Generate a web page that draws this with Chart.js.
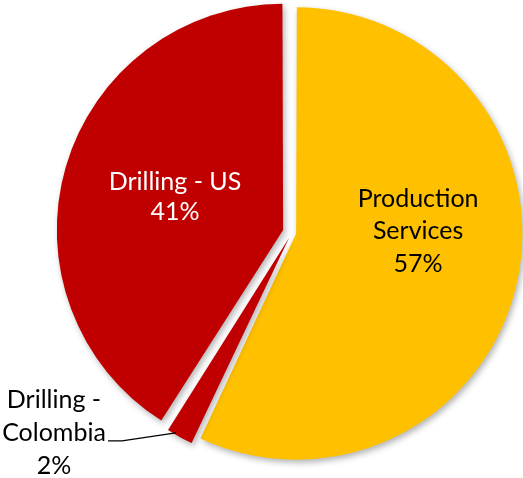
<!DOCTYPE html>
<html>
<head>
<meta charset="utf-8">
<script src="https://cdn.jsdelivr.net/npm/chart.js@4/dist/chart.umd.min.js"></script>
<style>
	html, body { margin: 0; padding: 0; background: #fff; }
	#wrap { width: 523px; height: 478px; }
</style>
</head>
<body>
<div id="wrap"><canvas id="myChart" width="523" height="478"></canvas></div>
<script>
// data
var segments = ['Production Services', 'Drilling - Colombia', 'Drilling - US'];
var shares = [57, 2, 41];
var segColors = ['#FFC000', '#C00000', '#C00000'];

// label text, one array of lines per segment
var labelLines = [
	['Production', 'Services', '57%'],
	['Drilling -', 'Colombia', '2%'],
	['Drilling - US', '41%']
];

// Bóng đổ cho các lát
var shadowPlugin = {
	id: 'shadow',
	beforeDatasetsDraw: function(chart) {
		var ctx = chart.ctx;
		ctx.save();
		ctx.shadowColor = 'rgba(0,0,0,0.3)';
		ctx.shadowBlur = 6;
		ctx.shadowOffsetX = 2;
		ctx.shadowOffsetY = 3;
	},
	afterDatasetsDraw: function(chart) {
		chart.ctx.restore();
	}
};

// Nhãn cho từng lát
var labelPlugin = {
	id: 'sliceLabels',
	afterDraw: function(chart, args, opts) {
		var ctx = chart.ctx;
		var arcs = chart.getDatasetMeta(0).data;
		ctx.save();
		ctx.font = opts.font;
		ctx.textAlign = 'center';
		ctx.textBaseline = 'alphabetic';
		opts.spots.forEach(function(spot, i) {
			var arc = arcs[i];
			var p = arc.getProps(['x', 'y', 'outerRadius']);
			var cx = p.x + spot.dx * p.outerRadius;
			var cy = p.y + spot.dy * p.outerRadius;
			ctx.fillStyle = spot.color;
			labelLines[i].forEach(function(line, j) {
				ctx.fillText(line, cx, cy + j * spot.lh);
			});
			if (spot.leader) {
				ctx.strokeStyle = '#000';
				ctx.lineWidth = 1.3;
				ctx.beginPath();
				var l = spot.leader;
				ctx.moveTo(p.x + l[0][0] * p.outerRadius, p.y + l[0][1] * p.outerRadius);
				for (var k = 1; k < l.length; k++) {
					ctx.lineTo(p.x + l[k][0] * p.outerRadius, p.y + l[k][1] * p.outerRadius);
				}
				ctx.stroke();
			}
		});
		ctx.restore();
	}
};

var ctx = document.getElementById('myChart').getContext('2d');
var myChart = new Chart(ctx, {
	type: 'pie',
	data: {
		labels: segments,
		datasets: [
			{
				data: shares,
				backgroundColor: segColors,
				borderColor: '#fff',
				borderWidth: 0,
				// v4: dịch offset/4 và nở bán kính theo độ rộng lát
				offset: [17, 24, 37]
			}
		]
	},
	options: {
		responsive: false,
		animation: false,
		radius: 222,
		layout: { padding: { left: 62, right: 1, top: 0, bottom: 13 } },
		plugins: {
			legend: { display: false },
			tooltip: { enabled: false },
			sliceLabels: {
				font: '25px Lato',
				spots: [
					{ dx: 0.568, dy: -0.115, lh: 32.5, color: '#000' },
					{ dx: -1.072, dy: 0.791, lh: 33, color: '#000',
						leader: [[-0.829, 0.939], [-0.766, 0.939], [-0.523, 0.903]] },
					{ dx: -0.527, dy: -0.191, lh: 30, color: '#fff' }
				]
			}
		}
	},
	plugins: [shadowPlugin, labelPlugin]
});
</script>
</body>
</html>
